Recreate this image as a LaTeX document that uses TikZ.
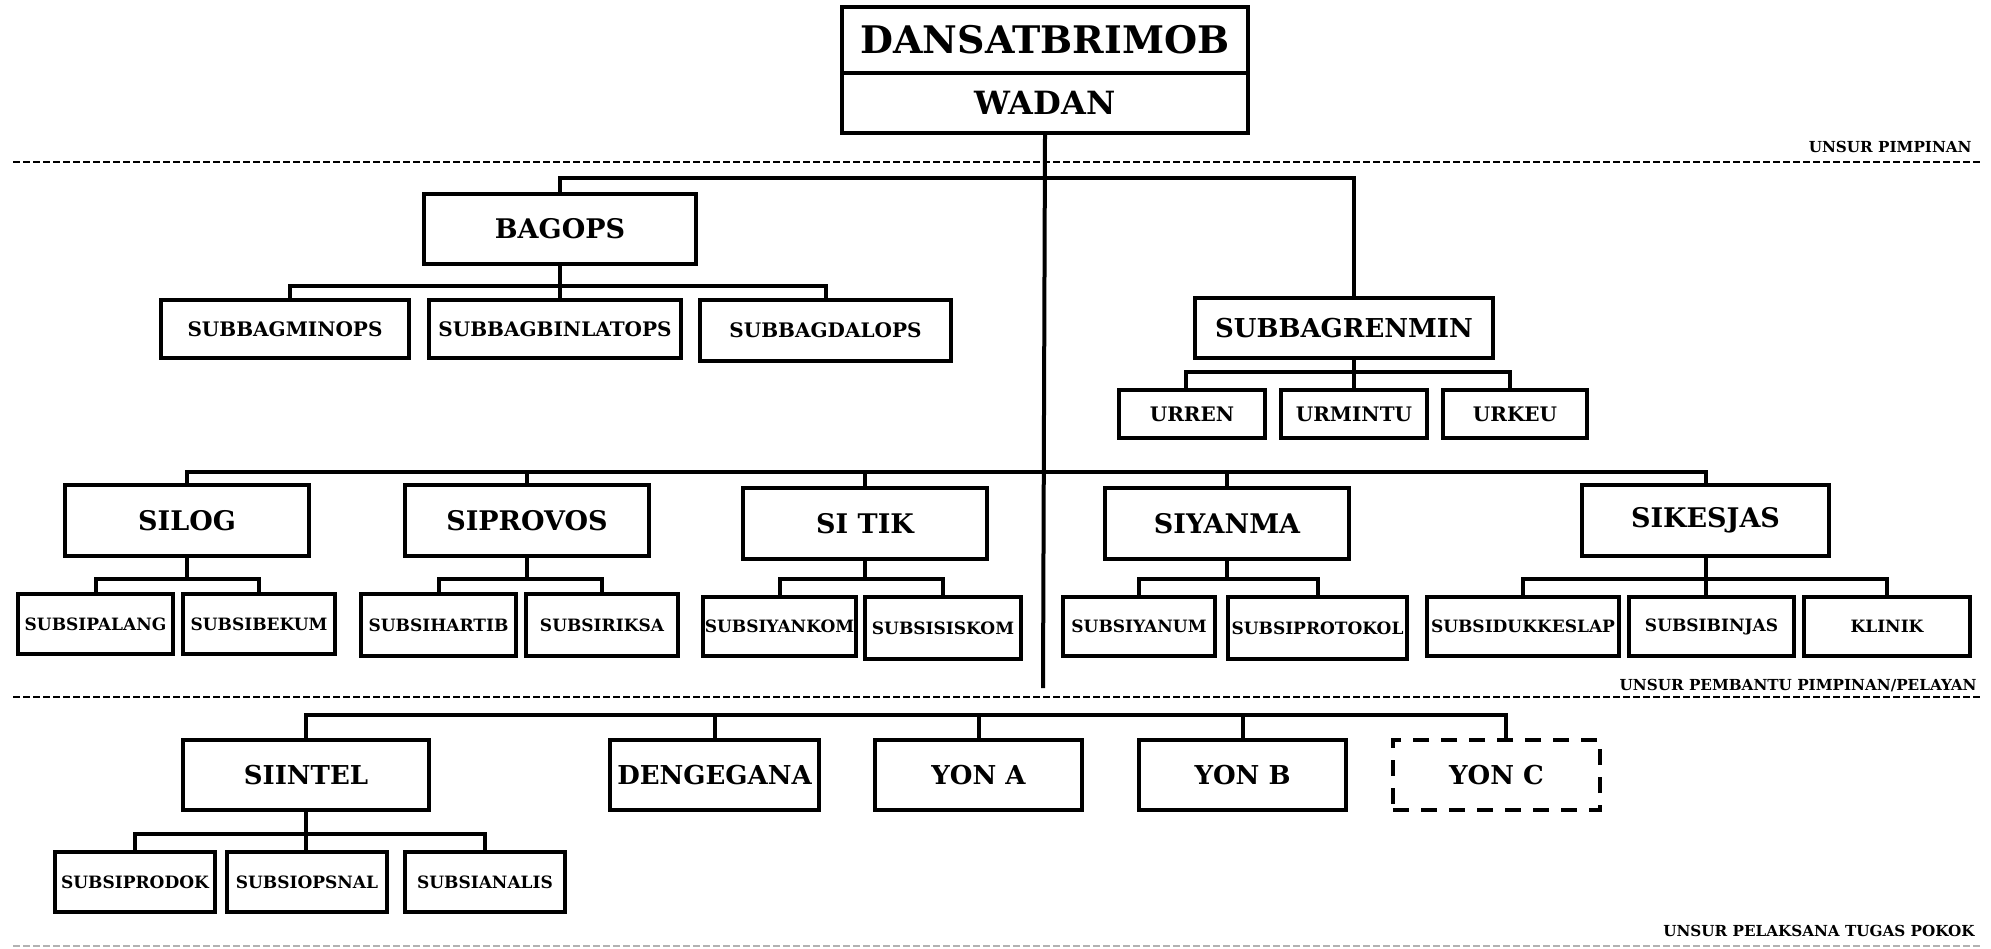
\documentclass[tikz,border=0pt]{standalone}
\usepackage{fontspec}
\setmainfont{DejaVu Serif}
\newcommand\fsz[1]{\fontsize{#1}{#1}\selectfont}
\tikzset{
  box/.style={draw, line width=2pt, inner sep=0pt, align=center},
  conn/.style={line width=2pt},
  sepline/.style={line width=1pt, dash pattern=on 3.5pt off 1.5pt},
  sepgray/.style={line width=0.6pt, gray!60, dash pattern=on 3.5pt off 1.5pt},
  tA/.style={font=\bfseries\fsz{19}},
  tB/.style={font=\bfseries\fsz{16}},
  tC/.style={font=\bfseries\fsz{13.5}},
  tR/.style={font=\bfseries\fsz{13}},
  tD/.style={font=\bfseries\fsz{10}},
  tE/.style={font=\bfseries\fsz{8.5}},
  tF/.style={font=\bfseries\fsz{13}},
  lab/.style={font=\bfseries\fsz{7.6}, anchor=base east, inner sep=0pt},
}
\newcommand\bx[7][]{\node[box,minimum width={(#5-#3)*0.5pt},minimum height={(#6-#4)*0.5pt},#1] (#2) at ({(#3+#5)/2},{(#4+#6)/2}) {#7};}
\begin{document}
\begin{tikzpicture}[x=0.5pt,y=-0.5pt]
\useasboundingbox (0,0) rectangle (1991,948);
% top
\bx[tA]{dansat}{842}{7}{1248}{73}{DANSATBRIMOB}
\bx[tB]{wadan}{842}{73}{1248}{133}{WADAN}
% separators and labels
\draw[sepline] (13,162) -- (1980,162);
\node[lab] (l1) at (1972,152) {UNSUR PIMPINAN};
\draw[sepline] (13,697) -- (1980,697);
\node[lab] (l2) at (1977,690) {UNSUR PEMBANTU PIMPINAN/PELAYAN};
\draw[sepgray] (13,946) -- (1980,946);
\node[lab] (l3) at (1975,936) {UNSUR PELAKSANA TUGAS POKOK};
% second level
\bx[tC]{bagops}{424}{194}{696}{264}{BAGOPS}
\bx[tD]{minops}{161}{300}{409}{358}{SUBBAGMINOPS}
\bx[tD]{binlat}{429}{300}{681}{358}{SUBBAGBINLATOPS}
\bx[tD]{dalops}{700}{300}{951}{361}{SUBBAGDALOPS}
\bx[tR]{renmin}{1195}{298}{1493}{358}{SUBBAGRENMIN}
\bx[tD]{urren}{1119}{390}{1265}{438}{URREN}
\bx[tD]{urmintu}{1281}{390}{1427}{438}{URMINTU}
\bx[tD]{urkeu}{1443}{390}{1587}{438}{URKEU}
% SI row
\bx[tC]{silog}{65}{485}{309}{556}{SILOG}
\bx[tC]{siprovos}{405}{485}{649}{556}{SIPROVOS}
\bx[tC]{sitik}{743}{488}{987}{559}{SI TIK}
\bx[tC]{siyanma}{1105}{488}{1349}{559}{SIYANMA}
\bx[tC]{sikesjas}{1582}{485}{1829}{556}{SIKESJAS}
% SUBSI row
\bx[tE]{palang}{18}{594}{173}{654}{SUBSIPALANG}
\bx[tE]{bekum}{183}{594}{335}{654}{SUBSIBEKUM}
\bx[tE]{hartib}{361}{594}{516}{656}{SUBSIHARTIB}
\bx[tE]{riksa}{526}{594}{678}{656}{SUBSIRIKSA}
\bx[tE]{yankom}{703}{597}{856}{656}{SUBSIYANKOM}
\bx[tE]{siskom}{865}{597}{1021}{659}{SUBSISISKOM}
\bx[tE]{yanum}{1063}{597}{1215}{656}{SUBSIYANUM}
\bx[tE]{protokol}{1228}{597}{1407}{659}{SUBSIPROTOKOL}
\bx[tE]{dukkes}{1427}{597}{1619}{656}{SUBSIDUKKESLAP}
\bx[tE]{binjas}{1629}{597}{1794}{656}{SUBSIBINJAS}
\bx[tE]{klinik}{1804}{597}{1970}{656}{KLINIK}
% bottom
\bx[tF]{siintel}{183}{740}{429}{810}{SIINTEL}
\bx[tF]{dengegana}{610}{740}{819}{810}{DENGEGANA}
\bx[tF]{yona}{875}{740}{1082}{810}{YON A}
\bx[tF]{yonb}{1139}{740}{1346}{810}{YON B}
\bx[tF,dash pattern=on 8pt off 6pt]{yonc}{1393}{740}{1600}{810}{YON C}
\bx[tE]{prodok}{55}{852}{215}{912}{SUBSIPRODOK}
\bx[tE]{opsnal}{227}{852}{387}{912}{SUBSIOPSNAL}
\bx[tE]{analis}{405}{852}{565}{912}{SUBSIANALIS}
% bus coordinates
\coordinate (cend) at (1043,688);
\coordinate (b0) at (0,178);
\coordinate (b1) at (0,286);
\coordinate (b2) at (0,372);
\coordinate (b3) at (0,472);
\coordinate (b4) at (0,579);
\coordinate (b5) at (0,715);
\coordinate (b6) at (0,834);
\coordinate (rn) at ([xshift=5pt]renmin.north);
\coordinate (rs) at ([xshift=5pt]renmin.south);
\coordinate (yc) at ([xshift=4.5pt]yonc.north);
% connectors
\draw[conn] (wadan.south) -- (cend);
\draw[conn] (bagops.north) |- (rn |- b0) -- (rn);
\draw[conn] ([xshift=2.5pt]minops.north) |- (dalops.north |- b1) -- (dalops.north);
\draw[conn] (bagops.south) -- (bagops.south |- binlat.north);
\draw[conn] ([xshift=-3pt]urren.north) |- ([xshift=-2.5pt]urkeu.north |- b2) -- ([xshift=-2.5pt]urkeu.north);
\draw[conn] (rs) -- (rs |- urmintu.north);
\draw[conn] (silog.north) |- (sikesjas.north |- b3) -- (sikesjas.north);
\foreach \n in {siprovos,sitik,siyanma} \draw[conn] (\n.north) -- (\n.north |- b3);
\draw[conn] (palang.north) |- (bekum.north |- b4) -- (bekum.north);
\draw[conn] (silog.south) -- (silog.south |- b4);
\draw[conn] (hartib.north) |- (riksa.north |- b4) -- (riksa.north);
\draw[conn] (siprovos.south) -- (siprovos.south |- b4);
\draw[conn] (yankom.north) |- (siskom.north |- b4) -- (siskom.north);
\draw[conn] (sitik.south) -- (sitik.south |- b4);
\draw[conn] (yanum.north) |- (protokol.north |- b4) -- (protokol.north);
\draw[conn] (siyanma.south) -- (siyanma.south |- b4);
\draw[conn] (dukkes.north) |- (klinik.north |- b4) -- (klinik.north);
\draw[conn] (sikesjas.south) -- (sikesjas.south |- binjas.north);
\draw[conn] (siintel.north) |- (yc |- b5) -- (yc);
\foreach \n in {dengegana,yona,yonb} \draw[conn] (\n.north) -- (\n.north |- b5);
\draw[conn] (prodok.north) |- (analis.north |- b6) -- (analis.north);
\draw[conn] (siintel.south) -- (siintel.south |- opsnal.north);
\end{tikzpicture}
\end{document}
